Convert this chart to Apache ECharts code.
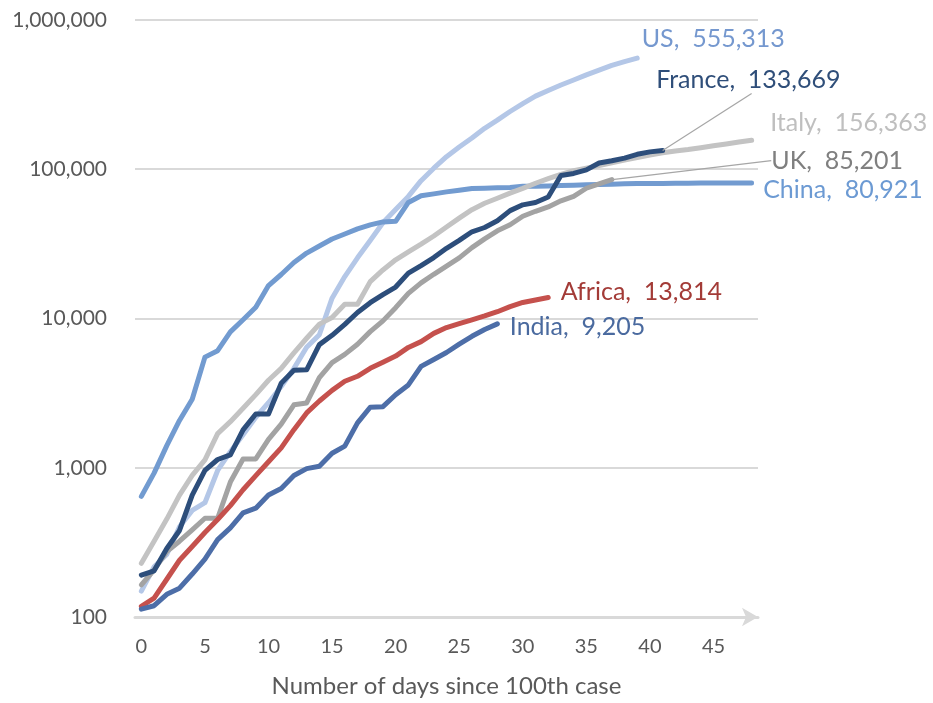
<!DOCTYPE html>
<html><head><meta charset="utf-8">
<script src="https://cdn.jsdelivr.net/npm/echarts@6/dist/echarts.min.js"></script>
<style>html,body{margin:0;padding:0;background:#fff}#c{width:933px;height:703px}</style>
</head><body><div id="c"></div>
<script>
// ---- data (cumulative confirmed cases by days since 100th case) ----
const days = [0,1,2,3,4,5,6,7,8,9,10,11,12,13,14,15,16,17,18,19,20,21,22,23,24,25,26,27,28,29,30,31,32,33,34,35,36,37,38,39,40,41,42,43,44,45,46,47,48];
const xTickLabels = ['0','5','10','15','20','25','30','35','40','45'];
const yTickValues = [100, 1000, 10000, 100000, 1000000];

const seriesNames = ['US','China','Italy','UK','Africa','India','France'];

const usValues = [149,217,262,402,518,583,959,1281,1663,2179,2727,3499,4632,6421,7786,13680,19101,25493,33276,43847,53740,65778,83836,101657,121478,140886,161807,188172,213372,243762,275586,308853,337072,366667,396223,429052,461437,496535,526396,555313];
const chinaValues = [643,920,1406,2075,2877,5509,6087,8141,9802,11891,16630,19716,23707,27440,30587,34110,36814,39829,42354,44386,44759,59895,66358,68413,70513,72434,74211,74619,75077,75550,77001,77022,77241,77754,78166,78600,78928,79356,79932,80136,80261,80386,80537,80690,80770,80823,80860,80887,80921];
const italyValues = [229,322,453,655,888,1128,1694,2036,2502,3089,3858,4636,5883,7375,9172,10149,12462,12462,17660,21157,24747,27980,31506,35713,41035,47021,53578,59138,63927,69176,74386,80589,86498,92472,97689,101739,105792,110574,115242,119827,124632,128948,132547,135586,139422,143626,147577,152271,156363];
const ukValues = [164,207,274,322,384,459,459,802,1144,1145,1551,1960,2642,2716,4014,5067,5745,6726,8164,9640,11812,14745,17312,19780,22453,25481,29865,34173,38689,42477,48436,52279,55949,61474,65872,74605,79874,85201];
const africaValues = [118,134,179,240,297,368,450,558,712,886,1096,1360,1800,2330,2800,3300,3800,4100,4640,5100,5600,6400,7000,7950,8700,9250,9800,10400,11100,12000,12800,13300,13814];
const indiaValues = [113,119,142,156,194,244,330,396,499,536,657,727,887,987,1024,1251,1397,1998,2543,2567,3082,3588,4778,5311,5916,6725,7598,8446,9205];
const franceValues = [191,204,288,380,656,959,1136,1219,1794,2293,2293,3681,4496,4532,6683,7715,9124,10970,12758,14463,16243,20123,22622,25600,29551,33402,38105,40708,45170,52827,57749,59929,65202,90848,93773,98963,110065,113959,118781,125931,130727,133669];

const xAxisTitle = 'Number of days since 100th case';

// ---- styling ----
const FONT = 'Lato, "Open Sans", sans-serif';
const styleMap = {
  US:     {line:'#B4C7E7', text:'#7598CF', dx:-1,  dy:-19, leader:null},
  China:  {line:'#729BD0', text:'#6C9AD3', dx:6,   dy:7,   leader:null},
  Italy:  {line:'#C3C3C3', text:'#BFBFBF', dx:13,  dy:-17, leader:null},
  UK:     {line:'#A3A3A3', text:'#7F7F7F', dx:154, dy:-19, leader:'auto'},
  Africa: {line:'#C5514D', text:'#A33B37', dx:7,   dy:-6,  leader:null},
  India:  {line:'#4D6EA8', text:'#4A6A9F', dx:7,   dy:3,   leader:null},
  France: {line:'#2D4E7B', text:'#2F4E79', dx:-12, dy:-71, leader:[89,-57]}
};
const valueMap = {US:usValues, China:chinaValues, Italy:italyValues, UK:ukValues, Africa:africaValues, India:indiaValues, France:franceValues};

const fmt = v => Number(v).toLocaleString('en-US');
const LEADER = {color:'#A6A6A6', width:1.2};

const series = seriesNames.map((name, si) => {
  const st = styleMap[name];
  const vals = valueMap[name];
  return {
    name, type:'line', z: 2 + si,
    showSymbol:true, showAllSymbol:true, symbol:'circle', symbolSize:1,
    itemStyle:{color:'rgba(0,0,0,0)'},
    lineStyle:{color:st.line, width:5, cap:'round', join:'round'},
    emphasis:{disabled:true},
    silent:true,
    data: vals.map((v,i) => i === vals.length-1 ? {value:v, label:{show:true}} : v),
    label:{
      show:false, position:'right', distance:5,
      color:st.text, fontFamily:FONT, fontSize:25,
      formatter: p => name + ',  ' + fmt(p.value)
    },
    labelLayout:{dx:st.dx, dy:st.dy},
    labelLine:{show:st.leader === 'auto', lineStyle:LEADER}
  };
});

const chart = echarts.init(document.getElementById('c'), null, {renderer:'canvas'});
chart.setOption({
  animation:false,
  backgroundColor:'#fff',
  grid:{left:135, right:175, top:20, bottom:82, containLabel:false},
  xAxis:{
    type:'category', data:days, boundaryGap:true,
    axisLine:{show:true, lineStyle:{color:'#D9D9D9', width:3}, symbol:['none','arrow'], symbolSize:[14,16]},
    axisTick:{show:false},
    axisLabel:{
      interval: (idx, val) => xTickLabels.indexOf(String(val)) >= 0,
      color:'#595959', fontFamily:FONT, fontSize:20, margin:20
    },
    splitLine:{show:false},
    name:xAxisTitle, nameLocation:'middle', nameGap:57,
    nameTextStyle:{color:'#595959', fontFamily:FONT, fontSize:24}
  },
  yAxis:{
    type:'log', logBase:10, min:yTickValues[0], max:yTickValues[yTickValues.length-1],
    axisLine:{show:false}, axisTick:{show:false},
    axisLabel:{color:'#595959', fontFamily:FONT, fontSize:21, margin:28, formatter: v => fmt(v)},
    splitLine:{show:true, lineStyle:{color:'#D9D9D9', width:2}}
  },
  series
});

// explicit leader lines (from the series' last point toward its label)
const graphics = [];
seriesNames.forEach(name => {
  const st = styleMap[name];
  if (!Array.isArray(st.leader)) return;
  const vals = valueMap[name];
  const p = chart.convertToPixel({gridIndex:0}, [days[vals.length-1], vals[vals.length-1]]);
  graphics.push({type:'line', z:100, silent:true,
    shape:{x1:p[0], y1:p[1], x2:p[0]+st.leader[0], y2:p[1]+st.leader[1]},
    style:{stroke:LEADER.color, lineWidth:LEADER.width}});
});
chart.setOption({graphic:graphics});
</script>
</body></html>
